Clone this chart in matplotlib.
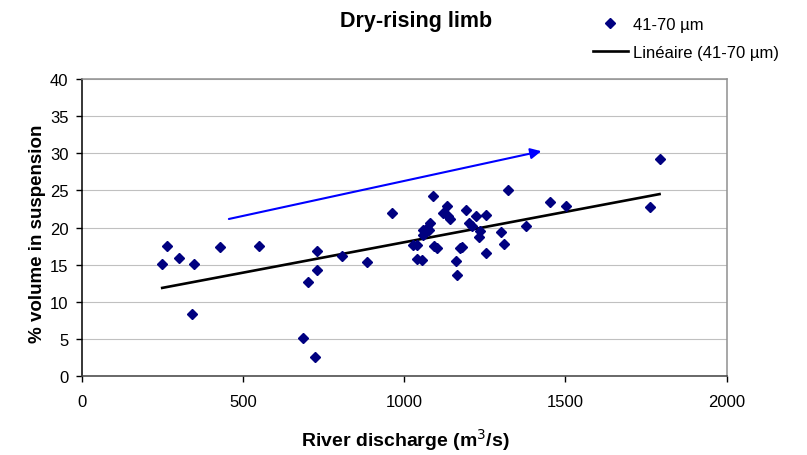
import numpy as np
import matplotlib.pyplot as plt

plt.rcParams['font.family'] = ['Liberation Sans', 'DejaVu Sans']

# === Data ===
discharge = [248, 262, 300, 348, 340, 428, 549, 686, 700, 723, 730, 730,
             806, 883, 961, 1028, 1038, 1038, 1054, 1059, 1059, 1070, 1075,
             1078, 1090, 1092, 1101, 1121, 1132, 1135, 1142, 1161, 1163,
             1173, 1178, 1192, 1199, 1209, 1223, 1230, 1235, 1254, 1254,
             1300, 1310, 1321, 1378, 1452, 1502, 1761, 1792]
volume = [15.1, 17.5, 15.9, 15.1, 8.3, 17.4, 17.5, 5.1, 12.6, 2.5, 16.8, 14.2,
          16.2, 15.4, 21.9, 17.7, 17.6, 15.8, 15.6, 19.7, 19.0, 20.0, 19.6,
          20.6, 24.2, 17.5, 17.2, 21.9, 22.9, 21.6, 21.1, 15.5, 13.6,
          17.2, 17.4, 22.3, 20.6, 20.2, 21.6, 18.7, 19.5, 21.7, 16.6,
          19.4, 17.8, 25.1, 20.2, 23.5, 22.9, 22.8, 29.2]

series_label = "41-70 µm"
trend_label = "Linéaire (41-70 µm)"
title = "Dry-rising limb"
xlabel = "River discharge (m$^3$/s)"
ylabel = "% volume in suspension"

xticks = [0, 500, 1000, 1500, 2000]
yticks = [0, 5, 10, 15, 20, 25, 30, 35, 40]

# arrow drawn on the chart (data coords)
arrow_start = (455, 21.15)
arrow_end = (1425, 30.3)

# === Plot ===
fig = plt.figure(figsize=(8.07, 4.56), dpi=100)
ax = fig.add_axes([0.102, 0.1739, 0.7983, 0.65])

x = np.array(discharge)
y = np.array(volume)
ax.plot(x, y, linestyle="none", marker="D", markersize=4.8,
        color="#000080", label=series_label, zorder=3)

slope, intercept = np.polyfit(x, y, 1)
xx = np.array([x.min(), x.max()])
ax.plot(xx, slope * xx + intercept, color="black", lw=1.9,
        label=trend_label, zorder=2)

ax.annotate("", xy=arrow_end, xytext=arrow_start,
            arrowprops=dict(arrowstyle="-|>", color="#0000FF", lw=1.5,
                            mutation_scale=16, shrinkA=0, shrinkB=0))

ax.set_xlim(0, 2000)
ax.set_ylim(0, 40)
ax.set_xticks(xticks)
ax.set_yticks(yticks)
ax.yaxis.grid(True, color="#c0c0c0", lw=0.8)
ax.set_axisbelow(True)
ax.tick_params(labelsize=12, length=4.5, width=1, direction="out")
ax.tick_params(axis="x", pad=9)
ax.tick_params(axis="y", pad=5.5)

ax.spines["left"].set_color("black")
ax.spines["bottom"].set_color("#404040")
ax.spines["top"].set_color("#909090")
ax.spines["right"].set_color("#909090")
for s in ax.spines.values():
    s.set_linewidth(1.1)

fig.text(0.5155, 0.9414, title, ha="center", va="baseline",
         fontsize=15.5, fontweight="bold")
fig.text(0.502, 0.0204, xlabel, ha="center", va="baseline",
         fontsize=14, fontweight="bold")
fig.text(0.046, 0.488, ylabel, ha="center", va="center", rotation=90,
         fontsize=13.5, fontweight="bold")

leg = ax.legend(loc="upper left", bbox_to_anchor=(0.7348, 0.9616),
                bbox_transform=fig.transFigure, frameon=False, fontsize=12,
                numpoints=1, handlelength=2.1, handletextpad=0.3,
                labelspacing=0.8, borderpad=0, borderaxespad=0)

fig.savefig("out.png", dpi=100)
